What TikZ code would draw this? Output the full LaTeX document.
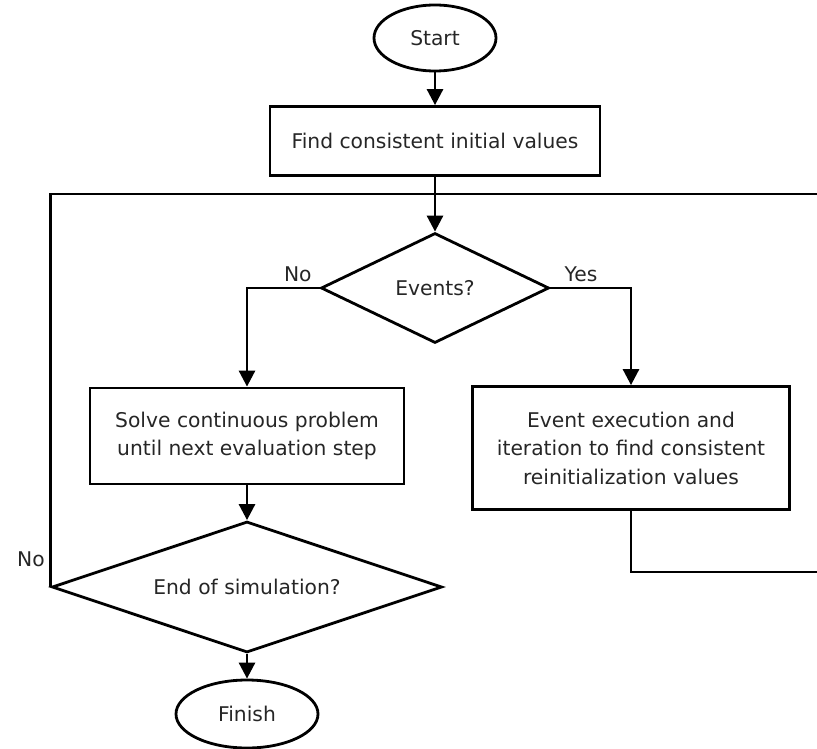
\documentclass[tikz,border=0pt]{standalone}
\usepackage{fontspec}
\setmainfont{DejaVu Sans}
\usetikzlibrary{shapes.geometric,arrows.meta}

\begin{document}
\begin{tikzpicture}[x=0.75pt,y=-0.75pt,line width=2.1pt,
        every node/.style={text=black!85,font=\fontsize{15.2}{21.4}\selectfont},
        term/.style={draw=black,ellipse,inner sep=0pt},
        block/.style={draw=black,rectangle,align=center,inner sep=0pt},
        decision/.style={draw=black,diamond,inner sep=0pt},
        flow/.style={-{Triangle[width=12pt,length=12pt]}}]
        \useasboundingbox (0,0) rectangle (817,749);

        % Nodes
        \node[term,minimum width=91.5pt,minimum height=49.5pt] (start) at (435,38) {Start};
        \node[block,minimum width=247.5pt,minimum height=51.75pt] (init) at (435,141)
            {Find consistent initial values};
        \node[decision,shape aspect=2.07,minimum width=171pt,minimum height=82.5pt]
            (events) at (435,288) {Events?};
        \node[block,minimum width=235.5pt,minimum height=72pt] (solve) at (247,436)
            {Solve continuous problem\\until next evaluation step};
        \node[block,minimum width=237.75pt,minimum height=92.25pt] (event) at (631,448)
            {Event execution and\\iteration to find consistent\\reinitialization values};
        \node[decision,shape aspect=2.98,minimum width=292.5pt,minimum height=98.25pt]
            (end) at (247,587) {End of simulation?};
        \node[term,minimum width=106.5pt,minimum height=51pt] (finish) at (247,714) {Finish};

        % Loop corners
        \coordinate (tr) at (817,194);
        \coordinate (br) at (817,572);

        % Main flow
        \draw[flow] (start) -- (init);
        \draw[flow] (init) -- (events);
        \draw[flow] (events.west) -| node[pos=0.15,above]{No} (solve.north);
        \draw[flow] (events.east) -| node[pos=0.19,above]{Yes} (event.north);
        \draw[flow] (solve) -- (end);
        \draw[flow] (end) -- (finish);

        % Loop back
        \draw (end.west) |- node[pos=0.035,left]{No} (tr);
        \draw (event.south) |- (br);
\end{tikzpicture}
\end{document}
